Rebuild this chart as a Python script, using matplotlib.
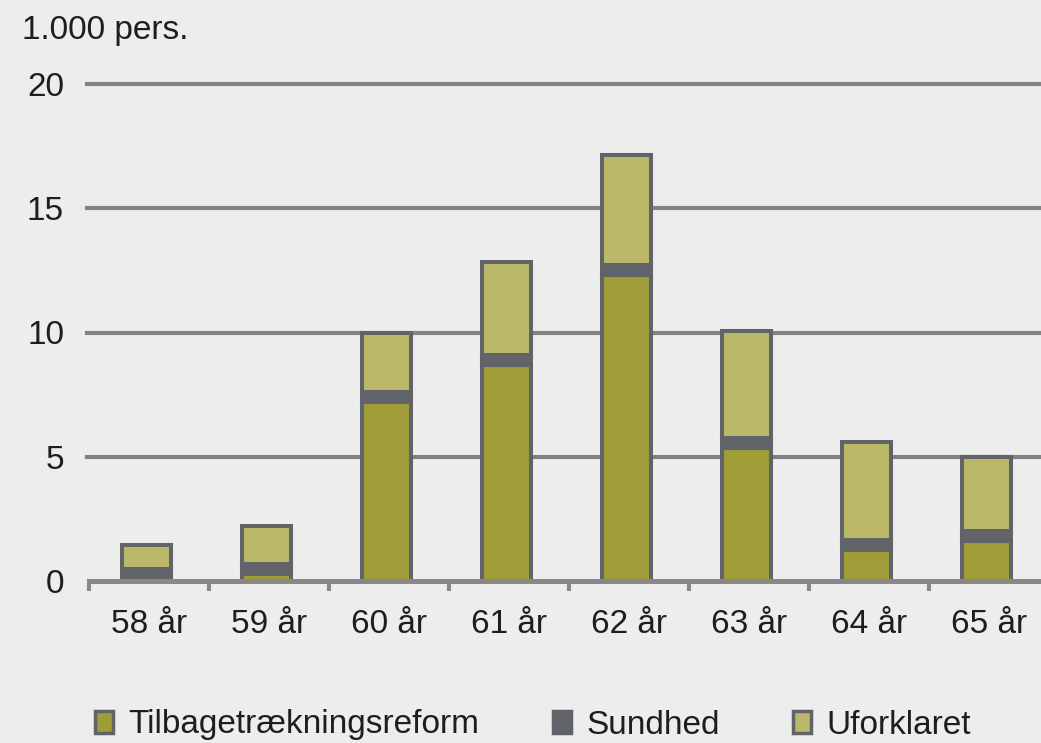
import matplotlib
matplotlib.use("Agg")
import matplotlib.pyplot as plt
import numpy as np
from matplotlib.patches import Patch

categories = ["58 år", "59 år", "60 år", "61 år", "62 år", "63 år", "64 år", "65 år"]
tilbage = [0.1, 0.3, 7.2, 8.7, 12.3, 5.35, 1.25, 1.6]
sundhed = [0.4, 0.4, 0.4, 0.4, 0.4, 0.4, 0.4, 0.4]
uforklaret = [0.95, 1.5, 2.4, 3.75, 4.45, 4.3, 3.93, 3.0]
series_names = ["Tilbagetrækningsreform", "Sundhed", "Uforklaret"]
yticks = [0, 5, 10, 15, 20]

bg = "#ededed"
c_olive = "#a09c37"
c_dark = "#606368"
c_light = "#bbb86a"
c_grid = "#838383"
c_text = "#1e1e1e"

plt.rcParams['font.family'] = ['Liberation Sans', 'DejaVu Sans']

W, H = 1041, 743
fig = plt.figure(figsize=(W / 100, H / 100), dpi=100, facecolor=bg)
y0, ypx = 581, 24.85
ytop = 20.3
x_left, step = 89, 120
ax = fig.add_axes([x_left / W, 1 - y0 / H, 8 * step / W, ytop * ypx / H])
ax.set_facecolor(bg)

x = np.arange(len(categories)) - 0.02
bw = 0.41
lw = 2.9
b1 = np.array(tilbage)
b2 = b1 + np.array(sundhed)
ax.bar(x, tilbage, bw, color=c_olive, edgecolor=c_dark, linewidth=lw, zorder=3)
ax.bar(x, sundhed, bw, bottom=b1, color=c_dark, edgecolor=c_dark, linewidth=lw, zorder=3)
ax.bar(x, uforklaret, bw, bottom=b2, color=c_light, edgecolor=c_dark, linewidth=lw, zorder=3)

ax.set_xlim(-0.5, len(categories) - 0.5)
ax.set_ylim(0, ytop)
for yt in yticks[1:]:
    ax.axhline(yt, color=c_grid, linewidth=3.0, zorder=1, xmin=-0.002, xmax=1.0, clip_on=False)

for s in ["top", "right", "left"]:
    ax.spines[s].set_visible(False)
ax.spines["bottom"].set_color("#888888")
ax.spines["bottom"].set_linewidth(3.6)
ax.spines["bottom"].set_zorder(4)

ax.set_yticks(yticks)
ax.set_yticklabels([str(v) for v in yticks])
ax.tick_params(axis="y", length=0, pad=18, labelsize=24, labelcolor=c_text)
ax.set_xticks(np.arange(len(categories)))
ax.set_xticklabels(categories)
ax.tick_params(axis="x", which="major", length=0, pad=20, labelsize=24, labelcolor=c_text)
ax.set_xticks(np.arange(-0.5, len(categories) - 0.4, 1), minor=True)
ax.tick_params(axis="x", which="minor", length=7, width=2.9, color="#888888")

fig.text(22 / W, 1 - 31 / H, "1.000 pers.", fontsize=24, color=c_text, va="center", ha="left")

handles = [Patch(facecolor=c_olive, edgecolor=c_dark, linewidth=2.5),
           Patch(facecolor=c_dark, edgecolor=c_dark, linewidth=2.5),
           Patch(facecolor=c_light, edgecolor=c_dark, linewidth=2.5)]
leg = fig.legend(handles, series_names, loc="center left", bbox_to_anchor=(95 / W, 1 - 725 / H),
                 ncol=3, frameon=False, fontsize=24, handlelength=0.55, handleheight=0.65,
                 handletextpad=0.45, columnspacing=2.2, borderpad=0, borderaxespad=0)
for t in leg.get_texts():
    t.set_color(c_text)

fig.savefig("out.png", dpi=100, facecolor=bg)
